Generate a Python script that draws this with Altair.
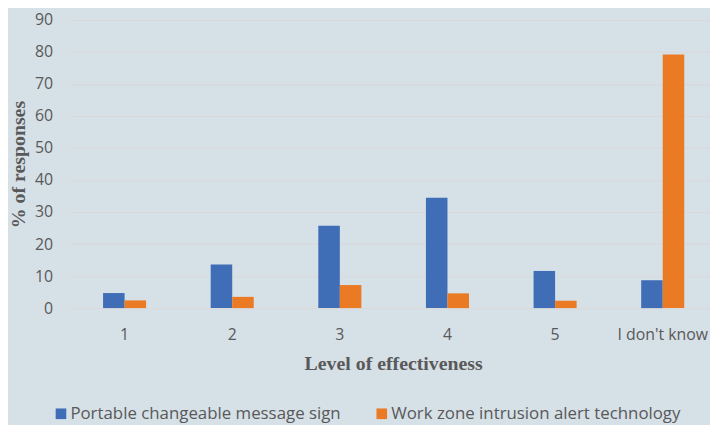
import altair as alt
import pandas as pd

categories = ["1", "2", "3", "4", "5", "I don't know"]
series_names = ["Portable changeable message sign", "Work zone intrusion alert technology"]
pcms_values = [4.7, 13.6, 25.7, 34.5, 11.6, 8.7]
wzia_values = [2.4, 3.5, 7.2, 4.6, 2.3, 79.2]
y_ticks = [0, 10, 20, 30, 40, 50, 60, 70, 80, 90]
colors = ["#3f6db6", "#eb7a25"]

rows = []
for c, v in zip(categories, pcms_values):
    rows.append({"level": c, "series": series_names[0], "value": v})
for c, v in zip(categories, wzia_values):
    rows.append({"level": c, "series": series_names[1], "value": v})
df = pd.DataFrame(rows)

text_color = "#595959"
label_font = "Open Sans"
title_font = "Liberation Serif"

chart = alt.Chart(df).mark_bar().encode(
    x=alt.X(
        "level:N",
        sort=categories,
        scale=alt.Scale(paddingInner=0.6, paddingOuter=0.2945),
        axis=alt.Axis(
            title="Level of effectiveness",
            labelAngle=0,
            labelFont=label_font,
            labelFontSize=16,
            labelColor=text_color,
            labelPadding=19,
            ticks=False,
            domain=False,
            titleFont=title_font,
            titleFontSize=20,
            titleFontWeight="bold",
            titleColor=text_color,
            titlePadding=11,
            titleX=325,
        ),
    ),
    xOffset=alt.XOffset(
        "series:N",
        sort=series_names,
        scale=alt.Scale(paddingInner=0, paddingOuter=0),
    ),
    y=alt.Y(
        "value:Q",
        scale=alt.Scale(domain=[0, 90], nice=False),
        axis=alt.Axis(
            title="% of responses",
            values=y_ticks,
            labelFont=label_font,
            labelFontSize=16,
            labelColor=text_color,
            labelPadding=19,
            ticks=False,
            domain=False,
            grid=True,
            gridColor="#d9d9d9",
            gridWidth=1,
            titleFont=title_font,
            titleFontSize=20,
            titleFontWeight="bold",
            titleColor=text_color,
            titlePadding=6,
        ),
    ),
    color=alt.Color(
        "series:N",
        sort=series_names,
        scale=alt.Scale(domain=series_names, range=colors),
        legend=alt.Legend(
            title=None,
            orient="none",
            legendX=-19,
            legendY=389,
            direction="horizontal",
            symbolType="square",
            symbolSize=115,
            symbolStrokeWidth=0,
            symbolOpacity=1,
            labelFont=label_font,
            labelFontSize=17,
            labelColor=text_color,
            labelOffset=1,
            labelLimit=500,
            columnPadding=32,
            padding=0,
        ),
    ),
).properties(
    width=651,
    height=291,
    autosize=alt.AutoSizeParams(type="none"),
    padding={"left": 64, "top": 10, "right": -6, "bottom": 116},
    background="#d6e0e7",
).configure_view(stroke=None)

chart.save("out.html", embed_options={"renderer": "svg", "actions": False})
